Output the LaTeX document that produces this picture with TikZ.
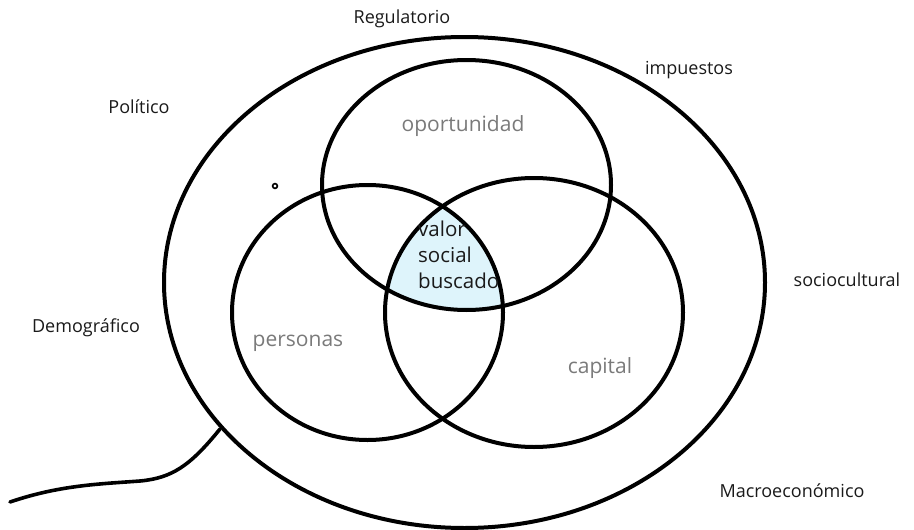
\documentclass[tikz,border=0pt]{standalone}
\usepackage{fontspec}
\setmainfont{Open Sans}
\definecolor{coreblue}{HTML}{DEF4FB}
\definecolor{ink}{HTML}{1A1A1A}
\definecolor{soft}{HTML}{7A7A7A}
\begin{document}
\begin{tikzpicture}[x=1pt,y=-1pt,
  ring/.style={draw=black,line width=4pt},
  outerlbl/.style={text=ink,font=\fontsize{18}{21}\selectfont,inner sep=0pt},
  innerlbl/.style={text=soft,font=\fontsize{21}{24}\selectfont,inner sep=0pt},
  corelbl/.style={text=ink,font=\fontsize{20.5}{26}\selectfont,inner sep=0pt,align=left,anchor=north west}]
\useasboundingbox (0,0) rectangle (914,530);
% shaded core
\begin{scope}
  \clip (466.5,185) ellipse [x radius=144.5pt, y radius=125pt];
  \clip (367.5,312.5) ellipse [x radius=135.5pt, y radius=127.5pt];
  \fill[coreblue] (534,312.5) ellipse [x radius=149pt, y radius=134.5pt];
\end{scope}
% outer ellipse
\draw[ring] (464.5,282.5) ellipse [x radius=300.5pt, y radius=245.5pt];
% three sets
\draw[ring] (466.5,185) ellipse [x radius=144.5pt, y radius=125pt];
\draw[ring] (367.5,312.5) ellipse [x radius=135.5pt, y radius=127.5pt];
\draw[ring] (534,312.5) ellipse [x radius=149pt, y radius=134.5pt];
% small dot
\draw[line width=1.6pt] (275,186) circle [radius=2.4pt];
% tail
\coordinate (tailA) at (220,429);
\coordinate (tailB) at (10,502);
\draw[line width=3.6pt,line cap=round] (tailA) .. controls (190,466) and (172,478) .. (140,481)
   .. controls (100,484) and (60,485) .. (tailB);
% outer labels
\node[outerlbl] (reg) at (402,19) {Regulatorio};
\node[outerlbl] (imp) at (689,70) {impuestos};
\node[outerlbl] (pol) at (139,107) {Político};
\node[outerlbl] (dem) at (86,328) {Demográfico};
\node[outerlbl] (soc) at (847,280) {sociocultural};
\node[outerlbl] (mac) at (792,491) {Macroeconómico};
% inner labels
\node[innerlbl] (opo) at (463,126) {oportunidad};
\node[innerlbl] (per) at (298,343) {personas};
\node[innerlbl] (cap) at (600,368) {capital};
\node[corelbl] (core) at (418,221) {valor\\social\\buscado};
\end{tikzpicture}
\end{document}
